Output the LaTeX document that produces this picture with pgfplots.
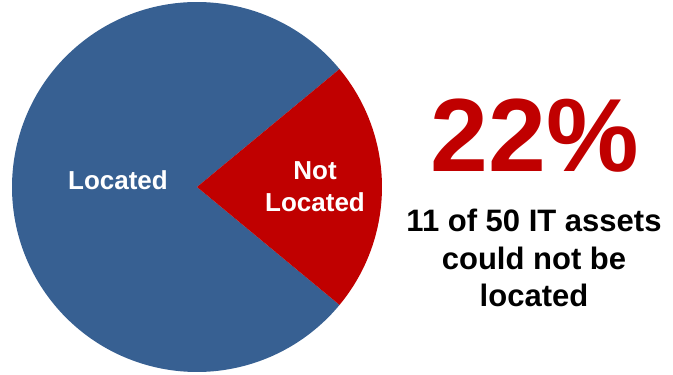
\documentclass[border=0pt]{standalone}
\usepackage{pgfplots}
\pgfplotsset{compat=1.18}
\usepackage{pgfplotstable}
\usepackage{fontspec}
\setmainfont{Liberation Sans}
\definecolor{pieblue}{HTML}{376092}
\definecolor{piered}{HTML}{C00000}
\pgfplotstableread{
label value
Located 39
NotLocated 11
}\piedata
\begin{document}
\begin{tikzpicture}
\pgfplotstablegetelem{0}{value}\of\piedata \let\vA=\pgfplotsretval
\pgfplotstablegetelem{1}{value}\of\piedata \let\vB=\pgfplotsretval
\pgfmathsetmacro\angB{360*\vB/(\vA+\vB)}
\pgfmathsetmacro\hB{\angB/2}
\pgfmathsetmacro\eA{360-\hB}
\begin{axis}[scale only axis, width=673pt, height=375pt,
  xmin=0, xmax=673, ymin=0, ymax=375, hide axis, clip=false]
\path (axis cs:0,0) rectangle (axis cs:673,375);
\fill[pieblue, overlay] (axis cs:197,188) -- ++(\hB:185pt) arc[start angle=\hB, end angle=\eA, radius=185pt] -- cycle;
\fill[piered, overlay] (axis cs:197,188) -- ++(-\hB:185pt) arc[start angle=-\hB, end angle=\hB, radius=185pt] -- cycle;
\node[anchor=base, text=white, font=\fontsize{26}{30}\selectfont\bfseries] at (axis cs:118,185) {Located};
\node[anchor=base, text=white, font=\fontsize{26}{30}\selectfont\bfseries] at (axis cs:315,195) {Not};
\node[anchor=base, text=white, font=\fontsize{26}{30}\selectfont\bfseries] at (axis cs:315,163) {Located};
\node[anchor=base, text=piered, font=\fontsize{104}{110}\selectfont\bfseries] at (axis cs:535,203) {22\%};
\node[anchor=base, font=\fontsize{31}{32}\selectfont\bfseries] at (axis cs:534,143) {11 of 50 IT assets};
\node[anchor=base, font=\fontsize{31}{32}\selectfont\bfseries] at (axis cs:534,105) {could not be};
\node[anchor=base, font=\fontsize{31}{32}\selectfont\bfseries] at (axis cs:534,68) {located};
\end{axis}
\end{tikzpicture}
\end{document}
